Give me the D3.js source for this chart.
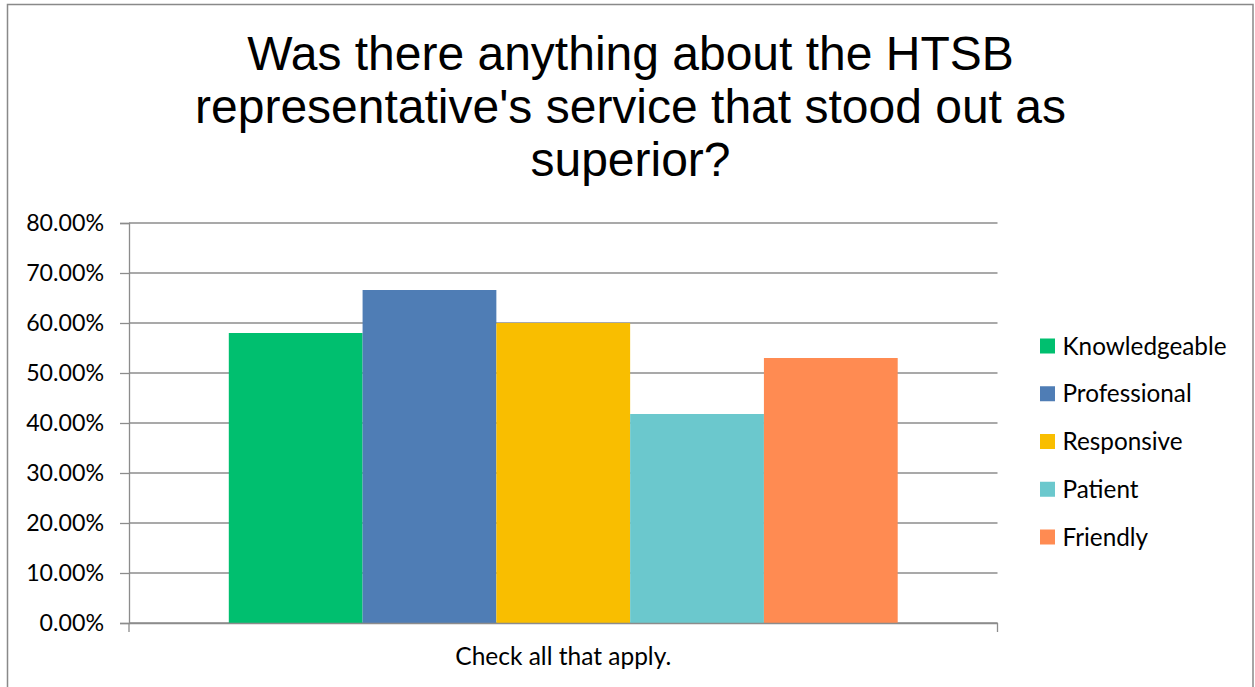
<!DOCTYPE html>
<html>
<head>
<meta charset="utf-8">
<script src="https://cdn.jsdelivr.net/npm/d3@7"></script>
<style>
  html, body { margin: 0; padding: 0; background: #fff; }
  svg { display: block; }
</style>
</head>
<body>
<svg id="chart" width="1255" height="687"></svg>
<script>
// ---- data ----
const titleLines = ["Was there anything about the HTSB", "representative's service that stood out as", "superior?"];
const categories = ["Check all that apply."];
const seriesNames = ["Knowledgeable", "Professional", "Responsive", "Patient", "Friendly"];
const seriesValues = [0.58, 0.666, 0.60, 0.418, 0.53];
const seriesColors = ["#00BF6F", "#4F7DB5", "#F9BE00", "#6BC8CD", "#FF8B52"];
const yTickValues = [0, 0.1, 0.2, 0.3, 0.4, 0.5, 0.6, 0.7, 0.8];

const svg = d3.select("#chart");
const tickFont = "Lato, 'Open Sans', sans-serif";

// outer border
svg.append("rect")
  .attr("x", 7.5).attr("y", 4.5).attr("width", 1245.5).attr("height", 700)
  .attr("fill", "#fff").attr("stroke", "#898989").attr("stroke-width", 1.5);

// title
svg.append("g").selectAll("text").data(titleLines).join("text")
  .attr("x", 630.5).attr("y", (d, i) => 70 + i * 53)
  .attr("text-anchor", "middle")
  .attr("font-family", "'Liberation Sans', Arial, sans-serif")
  .attr("font-size", 48)
  .attr("fill", "#000")
  .text(d => d);

// scales
const plotLeft = 129, plotRight = 997.5, plotTop = 223, plotBottom = 623;
const y = d3.scaleLinear().domain([0, 0.8]).range([plotBottom, plotTop]);
const x0 = d3.scaleBand().domain(categories).range([plotLeft, plotRight]).padding(0);
const x1 = d3.scaleBand().domain(seriesNames).range([0, x0.bandwidth()]).paddingInner(0).paddingOuter(0.746);

// gridlines
svg.append("g").selectAll("line").data(yTickValues).join("line")
  .attr("x1", plotLeft).attr("x2", plotRight)
  .attr("y1", d => y(d)).attr("y2", d => y(d))
  .attr("stroke", "#8c8c8c").attr("stroke-width", 1.3);

// bars
const g = svg.append("g").selectAll("g").data(categories).join("g")
  .attr("transform", d => `translate(${x0(d)},0)`);
g.selectAll("rect").data(seriesNames.map((n, i) => ({ name: n, value: seriesValues[i], color: seriesColors[i] })))
  .join("rect")
  .attr("x", d => x1(d.name))
  .attr("width", x1.bandwidth())
  .attr("y", d => y(d.value))
  .attr("height", d => y(0) - y(d.value))
  .attr("fill", d => d.color);

// y axis
const yAxis = d3.axisLeft(y).tickValues(yTickValues).tickFormat(d3.format(".2%"))
  .tickSize(9).tickPadding(16);
const yg = svg.append("g").attr("transform", `translate(${plotLeft},0)`).call(yAxis);
yg.select(".domain").attr("stroke", "#8c8c8c").attr("stroke-width", 1.3);
yg.selectAll(".tick line").attr("stroke", "#8c8c8c").attr("stroke-width", 1.3);
yg.selectAll(".tick text").attr("font-family", tickFont).attr("font-size", 23.2).attr("fill", "#000");

// x axis
const xAxis = d3.axisBottom(x0).tickSize(0).tickPadding(0);
const xg = svg.append("g").attr("transform", `translate(0,${plotBottom})`).call(xAxis);
xg.select(".domain").attr("stroke", "#8c8c8c").attr("stroke-width", 1.3);
xg.selectAll(".tick text").attr("font-family", tickFont).attr("font-size", 24.5).attr("fill", "#000")
  .attr("dy", 0).attr("y", 42);
// category boundary ticks
xg.append("g").selectAll("line").data([plotLeft, plotRight]).join("line")
  .attr("x1", d => d).attr("x2", d => d).attr("y1", 0).attr("y2", 9)
  .attr("stroke", "#8c8c8c").attr("stroke-width", 1.3);

// legend
const legend = svg.append("g").selectAll("g").data(seriesNames).join("g")
  .attr("transform", (d, i) => `translate(1040,${346 + i * 47.75})`);
legend.append("rect").attr("x", 0).attr("y", -7.5).attr("width", 15).attr("height", 15)
  .attr("fill", (d, i) => seriesColors[i]);
legend.append("text").attr("x", 22.5).attr("y", 0).attr("dy", "0.35em")
  .attr("font-family", tickFont).attr("font-size", 24.3).attr("fill", "#000")
  .text(d => d);
</script>
</body>
</html>
